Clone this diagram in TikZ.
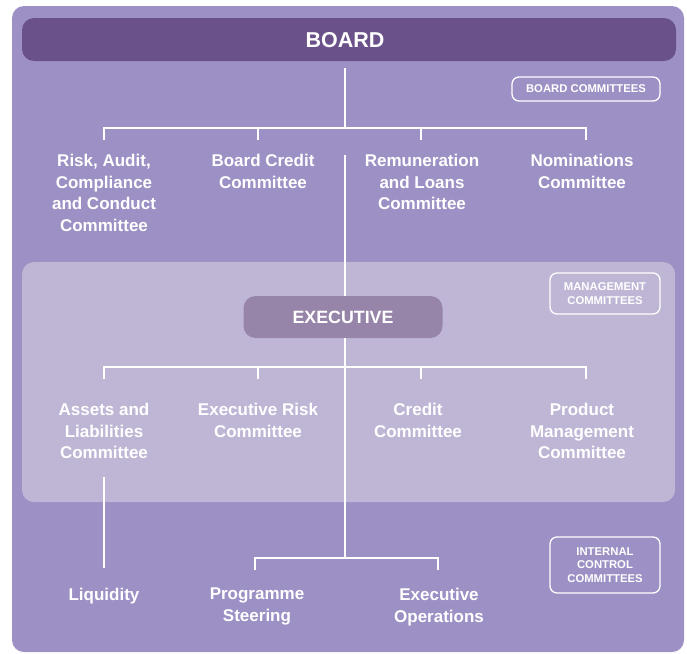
\documentclass[tikz,border=0pt]{standalone}
\usepackage{fontspec}
\setmainfont{Liberation Sans}
\usetikzlibrary{positioning}

\definecolor{panelbg}{HTML}{9D90C4}
\definecolor{boardbar}{HTML}{6A5189}
\definecolor{mgmtbg}{HTML}{BFB6D6}
\definecolor{execbar}{HTML}{9785A9}

\tikzset{
    link/.style={white, line width=2.2pt},
    head/.style={text=white, font=\bfseries\fontsize{21.5}{25}\selectfont},
    unit/.style={text=white, anchor=north, inner sep=0pt, align=center,
        font=\bfseries\fontsize{17}{21.7}\selectfont},
    tag/.style={draw=white, line width=1.3pt, rounded corners=7pt, text=white,
        align=center, inner sep=0pt, font=\bfseries\fontsize{11.3}{13.8}\selectfont}
}

\begin{document}
\begin{tikzpicture}[x=1pt, y=-1pt]
        \useasboundingbox (0,0) rectangle (687,653);
        % background and panels
        \fill [panelbg, rounded corners=12pt] (12,6) rectangle (684,652);
        \fill [boardbar, rounded corners=12pt] (22,18) rectangle (676,61);
        \fill [mgmtbg, rounded corners=12pt] (22,262) rectangle (675,502);
        \node [head] (board) at (345,40) {BOARD};
        \node [head, fill=execbar, rounded corners=12pt, minimum width=199pt,
            minimum height=42pt, font=\bfseries\fontsize{17.8}{20}\selectfont]
            (exec) at (343,317) {EXECUTIVE};

        % board committees
        \node [unit] (risk) at (104,154) {Risk, Audit,\\Compliance\\and Conduct\\Committee};
        \node [unit] (credit) at (263,154) {Board Credit\\Committee};
        \node [unit] (remun) at (422,154) {Remuneration\\and Loans\\Committee};
        \node [unit] (nomin) at (582,154) {Nominations\\Committee};

        % management committees
        \node [unit] (alco) at (104,403) {Assets and\\Liabilities\\Committee};
        \node [unit] (exrisk) at (258,403) {Executive Risk\\Committee};
        \node [unit] (mcredit) at (418,403) {Credit\\Committee};
        \node [unit] (product) at (582,403) {Product\\Management\\Committee};

        % internal control committees
        \node [unit] (liq) at (104,588) {Liquidity};
        \node [unit] (prog) at (257,588) {Programme\\Steering};
        \node [unit] (ops) at (439,588) {Executive\\Operations};

        \node [tag, minimum width=148pt, minimum height=24pt] (tagboard) at (586,89) {BOARD COMMITTEES};
        \node [tag, minimum width=110pt, minimum height=41pt] (tagmgmt) at (605,293.5) {MANAGEMENT\\COMMITTEES};
        \node [tag, minimum width=110pt, minimum height=56pt] (tagint) at (605,565) {INTERNAL\\CONTROL\\COMMITTEES};

        % tree lines
        \coordinate (b0) at (345,68);
        \coordinate (b1) at (345,128);
        \coordinate (e0) at (345,155);
        \coordinate (e1) at (345,367);
        \coordinate (i0) at (345,558);
        \draw [link] (b0) -- (b1);
        \draw [link] (104,128) -- (586,128);
        \foreach \x in {104, 258, 421, 586} %
            \draw [link] (\x,127) -- (\x,140);
        \draw [link] (e0) -- (e0 |- exec.north);
        \draw [link] (e1 |- exec.south) -- (e1);
        \draw [link] (104,367) -- (586,367);
        \foreach \x in {104, 258, 421, 586} %
            \draw [link] (\x,366) -- (\x,379);
        \draw [link] (e1) -- (i0);
        \draw [link, line cap=rect] (255,569) -- (255,558) -- (438,558) -- (438,569);
        \draw [link] (104,477) -- (104,568);
\end{tikzpicture}
\end{document}
